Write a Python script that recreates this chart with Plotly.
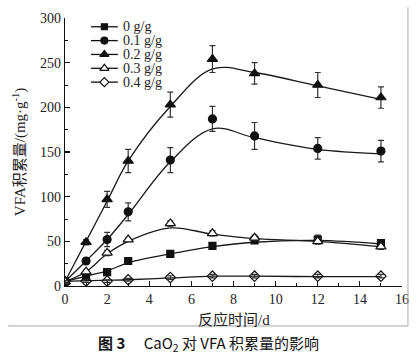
import plotly.graph_objects as go

# ---- data ----
time_d = [0, 1, 2, 3, 5, 7, 9, 12, 15]
labels = ["0 g/g", "0.1 g/g", "0.2 g/g", "0.3 g/g", "0.4 g/g"]

vfa_0 = [5, 11, 15.5, 28, 36, 45, 51, 52, 48]
vfa_01 = [5, 28, 52, 83, 141, 187, 168, 154, 151]
vfa_02 = [5, 49, 97, 140, 203, 254, 238, 225, 211]
vfa_03 = [5, 16, 37, 52, 70, 59, 54, 50, 44]
vfa_04 = [5, 5.5, 5.5, 7, 9.5, 11, 11, 11, 11]

err_0 = [1, 1.5, 2, 2, 2.5, 2.5, 3, 5, 3]
err_01 = [1, 3, 8, 10, 14, 14, 15, 12, 12]
err_02 = [1, 3, 9, 13, 14, 15, 12, 14, 12]
err_03 = [1, 2, 3, 2, 3, 3, 3, 3, 3]
err_04 = [1, 1.5, 1.5, 1.5, 2, 2, 2, 2, 2]

# fitted (smoothed) curves
fit_0 = [5, 11, 17, 26, 36, 44, 49, 51, 47]
fit_01 = [5, 28, 52, 80, 139, 176, 166, 153, 148]
fit_02 = [5, 50, 95, 140, 201, 243, 239, 224, 209]
fit_03 = [5, 16, 36, 50, 65, 58, 53, 50, 44]
fit_04 = [5, 6, 6.5, 7, 9, 11, 11, 10.5, 10.5]

x_ticks = [0, 2, 4, 6, 8, 10, 12, 14, 16]
y_ticks = [0, 50, 100, 150, 200, 250, 300]

INK = "#111111"
series = [
    (labels[0], vfa_0, err_0, fit_0, "square", INK, 7),
    (labels[1], vfa_01, err_01, fit_01, "circle", INK, 8),
    (labels[2], vfa_02, err_02, fit_02, "triangle-up", INK, 9),
    (labels[3], vfa_03, err_03, fit_03, "triangle-up", "white", 9),
    (labels[4], vfa_04, err_04, fit_04, "diamond-open", INK, 8),
]

SERIF = "Liberation Serif, Times New Roman, Noto Sans CJK SC, serif"
CJK = "Noto Sans CJK SC, sans-serif"

L, R, T, B = 65, 17, 11, 71
W, H = 420, 357
PW, PH = W - L - R, H - T - B

def px(xp):
    return (xp - L) / PW

def py(yp):
    return (H - B - yp) / PH

fig = go.Figure()

# fitted curves
for name, y, e, f, sym, fill, sz in series:
    fig.add_trace(go.Scatter(
        x=time_d, y=f, mode="lines",
        line=dict(color="#1a1a1a", width=1.3, shape="spline", smoothing=1.0),
        showlegend=False, hoverinfo="skip"))

# data points with error bars
for name, y, e, f, sym, fill, sz in series:
    fig.add_trace(go.Scatter(
        x=time_d, y=y, mode="markers",
        marker=dict(symbol=sym, size=sz, color=fill, line=dict(color=INK, width=1.2)),
        error_y=dict(type="data", array=e, visible=True, color="#333333", thickness=1.2, width=3),
        showlegend=False))

# custom legend drawn on a hidden overlay axis measured in page pixels
leg_x0, leg_x1, leg_text_x = 91, 118, 121
leg_y0, leg_dy = 20, 14.2
for i, (name, y, e, f, sym, fill, sz) in enumerate(series):
    yy = leg_y0 + i * leg_dy
    fig.add_trace(go.Scatter(
        x=[leg_x0, leg_x1], y=[yy, yy],
        mode="lines", line=dict(color=INK, width=1.3),
        xaxis="x2", yaxis="y2", showlegend=False, hoverinfo="skip"))
    leg_marker = dict(symbol=sym, size=sz - 1, color=fill, line=dict(color=INK, width=1.2))
    if sym == "diamond-open":
        leg_marker = dict(symbol="diamond", size=sz - 1, color="white", line=dict(color=INK, width=1.2))
    fig.add_trace(go.Scatter(
        x=[(leg_x0 + leg_x1) / 2], y=[yy], mode="markers", marker=leg_marker,
        xaxis="x2", yaxis="y2", showlegend=False, hoverinfo="skip"))
    fig.add_annotation(text=name, xref="x2", yref="y2", x=leg_text_x, y=yy,
                       xanchor="left", yanchor="middle", showarrow=False,
                       font=dict(family=SERIF, size=14, color="#222222"))

fig.update_layout(
    width=W, height=H,
    margin=dict(l=L, r=R, t=T, b=B),
    paper_bgcolor="white", plot_bgcolor="white",
    font=dict(family=SERIF, size=14, color=INK),
    showlegend=False,
    xaxis=dict(range=[0, 16], tickvals=x_ticks, ticktext=[str(v) for v in x_ticks],
               showgrid=False, zeroline=False, showline=True, linecolor=INK, linewidth=1.3,
               ticks="inside", ticklen=5, tickwidth=1.2, tickcolor=INK,
               minor=dict(dtick=1, ticks="inside", ticklen=3, tickwidth=1, tickcolor=INK),
               tickfont=dict(family=SERIF, size=14, color="#222222")),
    yaxis=dict(range=[0, 300], tickvals=y_ticks, ticktext=[str(v) for v in y_ticks],
               showgrid=False, zeroline=False, showline=True, linecolor=INK, linewidth=1.3,
               ticks="inside", ticklen=5, tickwidth=1.2, tickcolor=INK,
               minor=dict(dtick=25, ticks="inside", ticklen=3, tickwidth=1, tickcolor=INK),
               tickfont=dict(family=SERIF, size=14, color="#222222")),
    xaxis2=dict(overlaying="x", range=[L, W - R], visible=False, fixedrange=True),
    yaxis2=dict(overlaying="y", range=[H - B, T], visible=False, fixedrange=True),
)

fig.add_annotation(text="VFA积累量/(mg·g<sup>-1</sup>)", xref="paper", yref="paper",
                   x=px(19), y=0.5, textangle=-90, showarrow=False,
                   font=dict(family=SERIF, size=15, color="#222222"), xanchor="center", yanchor="middle")
fig.add_annotation(text="反应时间/d", xref="paper", yref="paper",
                   x=0.5, y=py(320), showarrow=False,
                   font=dict(family=SERIF, size=15, color="#222222"), xanchor="center", yanchor="middle")
fig.add_annotation(text="<b>图 3</b>　 CaO<sub>2</sub> 对 VFA 积累量的影响", xref="paper", yref="paper",
                   x=px(209), y=py(345), showarrow=False,
                   font=dict(family=CJK, size=15, color="#111111"), xanchor="center", yanchor="middle")

# figure frame lines
fig.add_shape(type="line", xref="paper", yref="paper", x0=px(8), x1=px(409), y0=py(327), y1=py(327),
              line=dict(color="#aaaaaa", width=1))
fig.add_shape(type="line", xref="paper", yref="paper", x0=px(409), x1=px(409), y0=py(327), y1=py(0),
              line=dict(color="#aaaaaa", width=1))

fig.write_html("out.html", config={"displayModeBar": False, "staticPlot": True},
               post_script="document.body.style.margin='0';document.documentElement.style.overflow='hidden';")
